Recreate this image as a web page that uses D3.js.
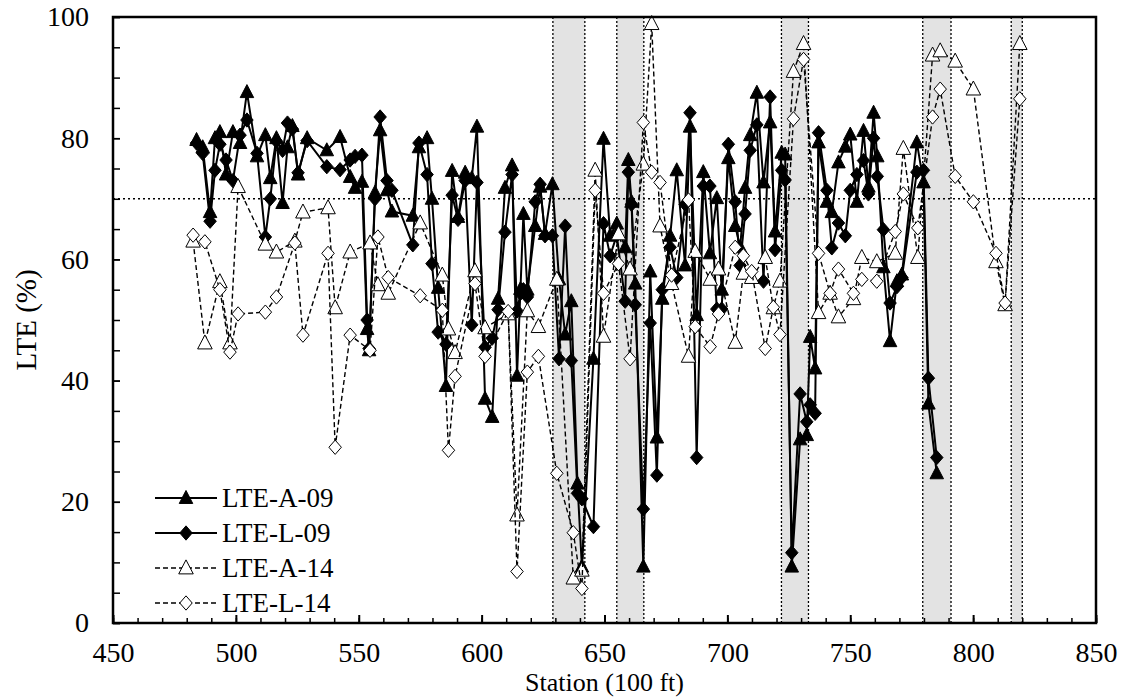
<!DOCTYPE html>
<html>
<head>
<meta charset="utf-8">
<script src="https://cdn.jsdelivr.net/npm/d3@7"></script>
<style>
body { margin: 0; background: #fff; }
svg { display: block; }
text { font-family: "Liberation Serif", "Times New Roman", serif; fill: #000; }
</style>
</head>
<body>
<div id="chart-area"></div>
<script>
// stations (100 ft) and LTE values
const stations09 = [484, 486.5, 489.5, 491.5, 493.5, 496, 498.8, 501.7, 504.5, 508.6, 512, 514, 516.5, 519, 521, 523, 525.3, 529, 537, 542.4,
  546.5, 548.5, 551.3, 553.4, 554.2, 556.6, 558.7, 561.5, 563.5, 572, 574.5, 577.8, 579.8, 582.3, 585.5, 588, 590.4, 593.3, 596, 598.1,
  601.4, 604.3, 606.7, 609.5, 612.4, 614.4, 615.8, 617, 618.6, 621.8, 623.8, 625.8, 628.8, 631.5, 634, 636.5, 639, 640.8, 645.5, 649.6,
  652.3, 655, 658.4, 659.7, 661, 662.5, 665.8, 668.6, 671.3, 673.5, 676.7, 679.4, 682.8, 684.8, 687.5, 690.2, 692.9, 695.7, 697.7, 700.4,
  703.2, 705.2, 707.2, 709.3, 712, 714.7, 717.4, 719.4, 722.1, 723.5, 726.2, 729.6, 732.3, 733.7, 735.7, 737.1, 740.5, 742.5, 745.2, 748,
  750, 752.7, 755.4, 757.4, 759.5, 761, 763.5, 766.2, 769, 771, 777.1, 779.8, 781.8, 785.2]
const lteA09 = [79.7, 78.5, 67.8, 80, 81, 74, 81, 79.2, 87.6, 77, 80.5, 73.4, 80, 69.3, 78.5, 82, 74, 80, 78, 80.2,
  73.6, 71.8, 72.8, 48.5, 45, 71, 81.3, 71.4, 67.9, 67.2, 78.5, 80, 70, 55.3, 39.1, 74.6, 67, 74.3, 73.4, 81.9,
  37, 34, 53.5, 71.8, 75.5, 40.8, 55.1, 67.5, 55, 65.5, 72, 64.2, 72.4, 56.7, 47.6, 53.1, 23, 9.3, 43.6, 79.9,
  63.9, 65.9, 62, 76.4, 69.5, 56, 9.3, 58, 30.6, 53.5, 63.9, 74.7, 59, 81.9, 50.8, 74.4, 61, 70.1, 55, 76.7,
  65.5, 62, 71.8, 80.5, 87.5, 72.7, 82.6, 64.6, 77.6, 77.3, 9.3, 30.3, 31, 47.2, 42, 79.3, 69.5, 67.8, 76, 78.6,
  80.6, 69.5, 81.2, 72, 84.2, 77, 58.7, 46.5, 56.4, 57.5, 79.3, 72.7, 36.2, 24.7]
const lteL09 = [79.2, 77.5, 66.3, 74.7, 79, 76.4, 73, 80.5, 83, 77.5, 63.7, 70, 79.5, 78, 82.5, 81.5, 74.3, 79.6, 75.3, 74.8,
  76.4, 77, 77.2, 50, 45.3, 70, 83.5, 73, 71.4, 62.4, 79.2, 74, 59.3, 48, 46, 70.6, 66.6, 73, 49.2, 72.7,
  45.5, 47, 51.7, 64.5, 74, 51.5, 54.4, 55, 53.8, 69.5, 72.4, 63.9, 63.9, 43.6, 65.5, 43.3, 21.4, 20.5, 15.9, 65.9,
  60.6, 64, 53.1, 74.4, 69.1, 52.5, 18.8, 49.5, 24.4, 55, 62, 57, 69.1, 84.2, 27.3, 72.1, 72.1, 51.8, 51.8, 79,
  69.5, 59, 67.5, 78, 82.2, 56.4, 86.8, 61.6, 74.7, 73.1, 11.6, 37.8, 33.2, 36, 34.6, 80.9, 71.4, 61.9, 66, 63.9,
  71.4, 74, 76.3, 70.8, 80, 73.7, 64.9, 52.8, 55.5, 57, 74.4, 74.7, 40.4, 27.3]

const stations14 = [482.6, 487.4, 493.5, 497.6, 500.9, 512, 516.5, 524, 527.3, 537.5, 540.4, 546.5, 554.6, 557.8, 562, 575, 584, 586.5, 589.2, 597.3,
  601.4, 610.8, 614.4, 618.6, 623.1, 630.6, 637.3, 640.8, 646.2, 649.6, 655.7, 660.4, 665.8, 669.2, 672.6, 677.3, 684.2, 686.9, 693, 696.4,
  703.2, 706.5, 709.9, 715.4, 718.7, 721.4, 726.9, 731, 737.1, 741.8, 745.2, 751.3, 754.7, 760.8, 768.3, 771.6, 777.5, 783.5, 786.6, 792.7,
  800.1, 809.3, 813, 819]
const lteA14 = [63, 46.2, 56.3, 46.2, 72, 62.5, 61.2, 63, 67.8, 68.5, 52, 61.2, 62.7, 55.8, 54.4, 66, 57.4, 48.5, 44.6, 58.1,
  48.7, 51, 17.8, 51.5, 48.9, 56.7, 7.4, 8.7, 74.7, 47.3, 64.2, 58.4, 75.7, 98.9, 65.5, 56, 44, 61.3, 56.7, 58.4,
  46.3, 57.7, 57, 60.3, 52, 56.4, 91, 95.6, 51.2, 54.4, 50.5, 53.5, 60.3, 59.6, 61, 78.3, 60.3, 93.7, 94.4, 92.7,
  88.1, 59.6, 52.5, 95.6]
const lteL14 = [64, 62.9, 55, 44.7, 51, 51.3, 53.8, 62.7, 47.5, 61, 29, 47.5, 45, 63.7, 57, 54, 51.6, 28.5, 40.7, 56,
  44, 51.4, 8.5, 41.4, 44, 24.7, 14.9, 5.7, 71.4, 54.4, 59.3, 43.6, 82.6, 74.4, 72.7, 57.4, 69.8, 48.9, 45.6, 51,
  62, 60.6, 58, 45.3, 52.1, 47.6, 83.2, 93, 61, 54.4, 58.4, 54.4, 56.7, 56.4, 64.6, 70.8, 65.2, 83.5, 88.1, 73.7,
  69.5, 61, 52.8, 86.5]

// shaded station ranges and threshold
const bandStart = [629, 655, 722, 779.5, 815.5]
const bandEnd = [642, 666, 733, 791, 820]
const threshold = 70

const xTicks = [450, 500, 550, 600, 650, 700, 750, 800, 850]
const yTicks = [0, 20, 40, 60, 80, 100]
const seriesNames = ["LTE-A-09", "LTE-L-09", "LTE-A-14", "LTE-L-14"]

const W = 1125, H = 698
const PLOT = { LEFT: 113, RIGHT: 1096, TOP: 17, BOTTOM: 623 }

const svg = d3.select("#chart-area").append("svg")
  .attr("width", W)
  .attr("height", H)

const x = d3.scaleLinear().domain([450, 850]).range([PLOT.LEFT, PLOT.RIGHT])
const y = d3.scaleLinear().domain([0, 100]).range([PLOT.BOTTOM, PLOT.TOP])

// marker shapes
const triangle = {
  draw(ctx, s) {
    ctx.moveTo(0, -s * 0.58)
    ctx.lineTo(s * 0.52, s * 0.42)
    ctx.lineTo(-s * 0.52, s * 0.42)
    ctx.closePath()
  }
}
const diamond = {
  draw(ctx, s) {
    ctx.moveTo(0, -s * 0.55)
    ctx.lineTo(s * 0.48, 0)
    ctx.lineTo(0, s * 0.55)
    ctx.lineTo(-s * 0.48, 0)
    ctx.closePath()
  }
}

const series = [
  { name: seriesNames[0], st: stations09, v: lteA09, sym: triangle, fill: "#000", dash: null, lw: 2, size: 13 },
  { name: seriesNames[1], st: stations09, v: lteL09, sym: diamond, fill: "#000", dash: null, lw: 2, size: 13 },
  { name: seriesNames[2], st: stations14, v: lteA14, sym: triangle, fill: "#fff", dash: "5,3", lw: 1.4, size: 14 },
  { name: seriesNames[3], st: stations14, v: lteL14, sym: diamond, fill: "#fff", dash: "5,3", lw: 1.4, size: 13 }
]

// shaded bands
const bands = bandStart.map((s, i) => ({ s: s, e: bandEnd[i] }))
svg.append("g").selectAll("rect")
  .data(bands)
  .enter().append("rect")
  .attr("x", d => x(d.s))
  .attr("y", PLOT.TOP)
  .attr("width", d => x(d.e) - x(d.s))
  .attr("height", PLOT.BOTTOM - PLOT.TOP)
  .attr("fill", "#e3e3e3")

const edges = bandStart.concat(bandEnd)
svg.append("g").selectAll("line")
  .data(edges)
  .enter().append("line")
  .attr("x1", d => x(d)).attr("x2", d => x(d))
  .attr("y1", PLOT.TOP).attr("y2", PLOT.BOTTOM)
  .attr("stroke", "#000")
  .attr("stroke-width", 1.3)
  .attr("stroke-dasharray", "2,2")

// threshold line
svg.append("line")
  .attr("x1", PLOT.LEFT).attr("x2", PLOT.RIGHT)
  .attr("y1", y(threshold)).attr("y2", y(threshold))
  .attr("stroke", "#000")
  .attr("stroke-width", 1.6)
  .attr("stroke-dasharray", "2,3")

// axes with inward ticks
svg.append("g")
  .attr("transform", `translate(0,${PLOT.BOTTOM})`)
  .call(d3.axisBottom(x).tickValues(d3.range(450, 851, 10)).tickSize(-5).tickFormat(""))
  .call(g => g.select(".domain").remove())
  .call(g => g.selectAll("line").attr("stroke-width", 1.5))

svg.append("g")
  .attr("transform", `translate(0,${PLOT.BOTTOM})`)
  .call(d3.axisBottom(x).tickValues(xTicks).tickSize(-8).tickPadding(19))
  .call(g => g.select(".domain").remove())
  .call(g => g.selectAll("line").attr("stroke-width", 2))
  .call(g => g.selectAll("text").attr("font-size", 28).attr("font-family", null))

svg.append("g")
  .attr("transform", `translate(${PLOT.LEFT},0)`)
  .call(d3.axisLeft(y).tickValues(d3.range(0, 101, 5)).tickSize(-7).tickFormat(""))
  .call(g => g.select(".domain").remove())
  .call(g => g.selectAll("line").attr("stroke-width", 1.5))

svg.append("g")
  .attr("transform", `translate(${PLOT.LEFT},0)`)
  .call(d3.axisLeft(y).tickValues(yTicks).tickSize(-7).tickPadding(24))
  .call(g => g.select(".domain").remove())
  .call(g => g.selectAll("line").attr("stroke-width", 1.5))
  .call(g => g.selectAll("text").attr("font-size", 28).attr("font-family", null))

// series
const lineGen = d3.line().x(d => x(d[0])).y(d => y(d[1]))

series.forEach(s => {
  const pts = s.st.map((st, i) => [st, s.v[i]])
  const g = svg.append("g")
  g.append("path")
    .attr("d", lineGen(pts))
    .attr("fill", "none")
    .attr("stroke", "#000")
    .attr("stroke-width", s.lw)
    .attr("stroke-dasharray", s.dash)
  g.selectAll("path.m")
    .data(pts)
    .enter().append("path")
    .attr("class", "m")
    .attr("transform", d => `translate(${x(d[0])},${y(d[1])})`)
    .attr("d", d3.symbol().type(s.sym).size(s.size))
    .attr("fill", s.fill)
    .attr("stroke", "#000")
    .attr("stroke-width", 1)
})

// frame
svg.append("rect")
  .attr("x", PLOT.LEFT).attr("y", PLOT.TOP)
  .attr("width", PLOT.RIGHT - PLOT.LEFT)
  .attr("height", PLOT.BOTTOM - PLOT.TOP)
  .attr("fill", "none")
  .attr("stroke", "#000")
  .attr("stroke-width", 2.5)

// axis titles
svg.append("text")
  .attr("x", (PLOT.LEFT + PLOT.RIGHT) / 2)
  .attr("y", 691)
  .attr("text-anchor", "middle")
  .attr("font-size", 26)
  .text("Station (100 ft)")

svg.append("text")
  .attr("transform", `translate(36,${(PLOT.TOP + PLOT.BOTTOM) / 2}) rotate(-90)`)
  .attr("text-anchor", "middle")
  .attr("font-size", 29)
  .text("LTE (%)")

// legend
const legend = svg.append("g")
series.forEach((s, i) => {
  const ly = 498 + i * 35
  legend.append("line")
    .attr("x1", 155).attr("x2", 217)
    .attr("y1", ly).attr("y2", ly)
    .attr("stroke", "#000")
    .attr("stroke-width", s.lw)
    .attr("stroke-dasharray", s.dash)
  legend.append("path")
    .attr("transform", `translate(186,${ly})`)
    .attr("d", d3.symbol().type(s.sym).size(s.size))
    .attr("fill", s.fill)
    .attr("stroke", "#000")
  legend.append("text")
    .attr("x", 222).attr("y", ly)
    .attr("dy", "0.35em")
    .attr("font-size", 27)
    .text(s.name)
})
</script>
</body>
</html>
